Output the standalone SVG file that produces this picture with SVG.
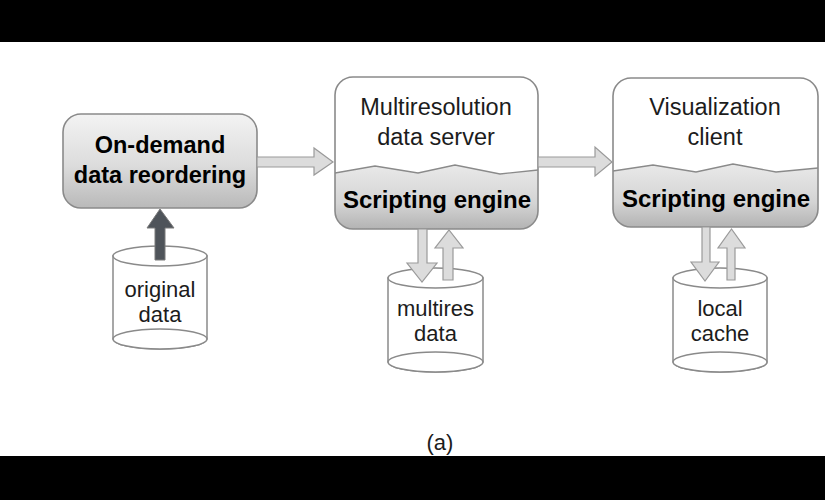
<svg xmlns="http://www.w3.org/2000/svg" width="825" height="500" viewBox="0 0 825 500">
<defs>
<linearGradient id="gLeft" x1="0" y1="0" x2="0" y2="1">
<stop offset="0" stop-color="#f3f3f3"/>
<stop offset="0.55" stop-color="#dcdcdc"/>
<stop offset="1" stop-color="#b9b9b9"/>
</linearGradient>
<linearGradient id="gEng" x1="0" y1="0" x2="0" y2="1">
<stop offset="0" stop-color="#e9e9e9"/>
<stop offset="0.6" stop-color="#d4d4d4"/>
<stop offset="1" stop-color="#b3b3b3"/>
</linearGradient>
<clipPath id="cMid"><rect x="335" y="77" width="203" height="152" rx="18"/></clipPath>
<clipPath id="cRight"><rect x="613" y="78" width="205" height="149" rx="18"/></clipPath>
</defs>
<style>
.box{fill:none;stroke:#8a8a8a;stroke-width:1.6}
.light{font-family:"Liberation Sans",Arial,sans-serif;fill:#1c1c1c;text-anchor:middle}
.bold{font-family:"Liberation Sans",Arial,sans-serif;font-weight:bold;fill:#000;text-anchor:middle}
.wave{fill:none;stroke:#8a8a8a;stroke-width:1.3}
.cyl{fill:#fff;stroke:#8a8a8a;stroke-width:1.5}
.garrow{fill:#dcdcdc;stroke:#9a9a9a;stroke-width:1.2;stroke-linejoin:miter}
.darrow{fill:#4f545a;stroke:#7a7a7a;stroke-width:1}
</style>
<rect x="0" y="0" width="825" height="500" fill="#fff"/>
<rect x="0" y="0" width="825" height="42" fill="#000"/>
<rect x="0" y="456" width="825" height="44" fill="#000"/>

<g id="reorder">
<rect x="63" y="114" width="194" height="94" rx="18" fill="url(#gLeft)" stroke="#8a8a8a" stroke-width="1.6"/>
<text class="bold" x="160" y="153" font-size="23.5">On-demand</text>
<text class="bold" x="160" y="183" font-size="23.5">data reordering</text>
</g>

<g id="original-data">
<path class="cyl" d="M113,256 L113,339 A47,10 0 0 0 207,339 L207,256 Z"/>
<ellipse class="cyl" cx="160" cy="339" rx="47" ry="10" fill="none"/>
<ellipse class="cyl" cx="160" cy="256" rx="47" ry="10"/>
<text class="light" x="160" y="297" font-size="22">original</text>
<text class="light" x="160" y="322" font-size="22">data</text>
</g>

<g id="server">
<g clip-path="url(#cMid)">
<rect x="335" y="77" width="203" height="152" fill="#fff"/>
<path d="M335,173 L375,166 L418,173 L455,165 L500,174 L538,170 L538,229 L335,229 Z" fill="url(#gEng)"/>
<path class="wave" d="M335,173 L375,166 L418,173 L455,165 L500,174 L538,170"/>
</g>
<rect class="box" x="335" y="77" width="203" height="152" rx="18"/>
<text class="light" x="436" y="115" font-size="23.5">Multiresolution</text>
<text class="light" x="436" y="145" font-size="23.5">data server</text>
<text class="bold" x="437" y="208" font-size="24">Scripting engine</text>
</g>

<g id="multires-data">
<path class="cyl" d="M388,278 L388,362 A47.5,10 0 0 0 483,362 L483,278 Z"/>
<ellipse class="cyl" cx="435.5" cy="362" rx="47.5" ry="10" fill="none"/>
<ellipse class="cyl" cx="435.5" cy="278" rx="47.5" ry="10"/>
<text class="light" x="435.5" y="316" font-size="22">multires</text>
<text class="light" x="435.5" y="341" font-size="22">data</text>
</g>

<g id="client">
<g clip-path="url(#cRight)">
<rect x="613" y="78" width="205" height="149" fill="#fff"/>
<path d="M613,171 L653,165 L696,172 L733,164 L776,172 L818,168 L818,227 L613,227 Z" fill="url(#gEng)"/>
<path class="wave" d="M613,171 L653,165 L696,172 L733,164 L776,172 L818,168"/>
</g>
<rect class="box" x="613" y="78" width="205" height="149" rx="18"/>
<text class="light" x="715" y="115" font-size="23.5">Visualization</text>
<text class="light" x="715" y="145" font-size="23.5">client</text>
<text class="bold" x="716" y="207" font-size="24">Scripting engine</text>
</g>

<g id="local-cache">
<path class="cyl" d="M673,278 L673,362 A47,10 0 0 0 767,362 L767,278 Z"/>
<ellipse class="cyl" cx="720" cy="362" rx="47" ry="10" fill="none"/>
<ellipse class="cyl" cx="720" cy="278" rx="47" ry="10"/>
<text class="light" x="720" y="316" font-size="22">local</text>
<text class="light" x="720" y="341" font-size="22">cache</text>
</g>

<g id="connectors">
<polygon class="darrow" points="155,260 155,228 147,228 160,209 174,228 165,228 165,260"/>
<polygon class="garrow" points="257,157 314,157 314,148 333,162 314,175 314,167 257,167"/>
<polygon class="garrow" points="538,157 595,157 595,147 612,162 595,176 595,167 538,167"/>
<polygon class="garrow" points="418,229 427,229 427,263 437,263 422,282 407,263 418,263"/>
<polygon class="garrow" points="443,280 443,248 435,248 449,230 463,248 453,248 453,280"/>
<polygon class="garrow" points="702,227 710,227 710,262 719,262 705,281 691,262 702,262"/>
<polygon class="garrow" points="727,280 727,248 718,248 731.5,229 745,248 735,248 735,280"/>
</g>

<text class="light" x="440" y="450" font-size="22">(a)</text>
</svg>
